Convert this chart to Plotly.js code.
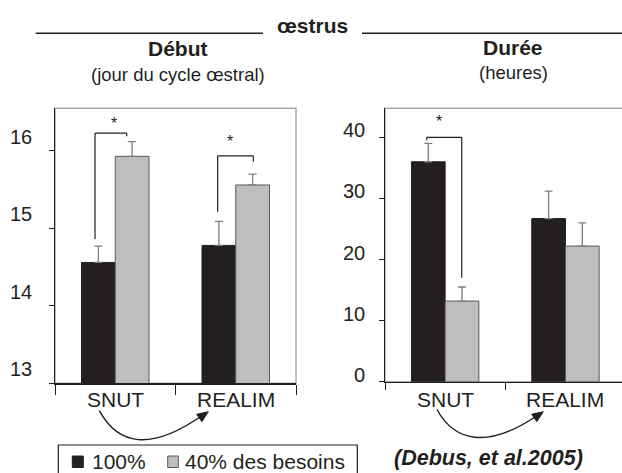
<!DOCTYPE html>
<html><head><meta charset="utf-8">
<script src="https://cdn.plot.ly/plotly-3.0.1.min.js"></script>
<style>html,body{margin:0;padding:0;background:#fff;} #chart{width:622px;height:473px;}</style>
</head><body><div id="chart"></div>
<script>
// ---- data ----
const groups = ['SNUT', 'REALIM'];
const seriesNames = ['100%', '40% des besoins'];
const debut100 = [14.56, 14.78];
const debut100Err = [0.21, 0.31];
const debut40 = [15.93, 15.56];
const debut40Err = [0.19, 0.14];
const duree100 = [36.0, 26.7];
const duree100Err = [3.0, 4.5];
const duree40 = [13.2, 22.2];
const duree40Err = [2.3, 3.8];
const debutTicks = [13, 14, 15, 16];
const dureeTicks = [0, 10, 20, 30, 40];

// ---- styling helpers ----
const W = 622, H = 473;
const px = x => x / W;
const py = y => 1 - y / H;
const FONT = 'Liberation Sans, Arial, Helvetica, sans-serif';
const INK = '#231f20';
const BLACK = '#231f20';
const GREY = '#bcbec0';
const GREY_EDGE = '#58595b';
const ERR = '#7f7f7f';
const COLORS = [BLACK, GREY];
const EDGES = [INK, GREY_EDGE];

function bar(xa, ya, vals, errs, idx) {
  return {
    type: 'bar', x: groups, y: vals, xaxis: xa, yaxis: ya,
    name: seriesNames[idx], showlegend: false,
    marker: { color: COLORS[idx], line: { color: EDGES[idx], width: 1 } },
    error_y: { type: 'data', array: errs, arrayminus: errs.map(() => 0), symmetric: false,
               color: ERR, thickness: 1.3, width: 4 },
    hoverinfo: 'skip'
  };
}

const data = [
  bar('x', 'y', debut100, debut100Err, 0),
  bar('x', 'y', debut40, debut40Err, 1),
  bar('x2', 'y2', duree100, duree100Err, 0),
  bar('x2', 'y2', duree40, duree40Err, 1)
];

const xCommon = {
  type: 'category', tickson: 'boundaries', ticks: 'outside', tickcolor: INK, tickwidth: 1,
  showline: true, linecolor: INK, linewidth: 1.3, showgrid: false, zeroline: false,
  showticklabels: false, fixedrange: true
};
const yCommon = {
  ticks: 'outside', ticklen: 5, tickcolor: INK, tickwidth: 1,
  showline: true, linecolor: INK, linewidth: 1.3, showgrid: false, zeroline: false,
  showticklabels: false, fixedrange: true
};

function seg(xref, yref, x0, y0, x1, y1, w) {
  return { type: 'line', xref, yref, x0, y0, x1, y1, line: { color: INK, width: w || 1.2 } };
}
function path(d, fill) {
  const o = { type: 'path', xref: 'paper', yref: 'paper', path: d, line: { color: INK, width: 1.4 } };
  if (fill) { o.fillcolor = INK; o.line.width = 1; }
  return o;
}
function box(x0, y0, x1, y1, fill, edge, w) {
  return { type: 'rect', xref: 'paper', yref: 'paper', x0: px(x0), x1: px(x1), y0: py(y1), y1: py(y0),
    fillcolor: fill, line: { color: edge, width: w } };
}
const P = (x, y) => px(x) + ',' + py(y);

const shapes = [
  // plot-area frames
  { type: 'rect', xref: 'x domain', yref: 'y domain', x0: 0, x1: 1, y0: 0, y1: 1, layer: 'below',
    line: { color: '#a7a9ac', width: 1.5 } },
  { type: 'rect', xref: 'x2 domain', yref: 'y2 domain', x0: 0, x1: 1.02, y0: 0, y1: 1, layer: 'below',
    line: { color: '#a7a9ac', width: 1.5 } },
  // header rules
  seg('paper', 'paper', px(35.7), py(33.3), px(263), py(33.3), 1.5),
  seg('paper', 'paper', px(362), py(33.3), 1, py(33.3), 1.5),
  // significance brackets - Début
  seg('x', 'y', -0.168, 14.86, -0.168, 16.23),
  seg('x', 'y', -0.168, 16.23, 0.095, 16.23),
  seg('x', 'y', 0.095, 16.23, 0.095, 16.19),
  seg('x', 'y', 0.85, 15.216, 0.85, 15.936),
  seg('x', 'y', 0.85, 15.936, 1.146, 15.936),
  seg('x', 'y', 1.146, 15.936, 1.146, 15.86),
  // significance bracket - Durée
  seg('x2', 'y2', -0.153, 40, 0.138, 40),
  seg('x2', 'y2', -0.153, 40, -0.153, 39.5),
  seg('x2', 'y2', 0.138, 40, 0.138, 17),
  // curved arrows SNUT -> REALIM
  path('M' + P(99.3, 410.7) + ' C' + P(118, 445) + ' ' + P(150, 452) + ' ' + P(203, 415)),
  path('M' + P(208.3, 411.7) + ' L' + P(201.9, 421.7) + ' L' + P(196.7, 414.3) + ' Z', true),
  path('M' + P(437, 409.5) + ' C' + P(454, 441) + ' ' + P(487, 450) + ' ' + P(538, 415)),
  path('M' + P(543.3, 411.7) + ' L' + P(536.8, 421.6) + ' L' + P(531.7, 414.2) + ' Z', true),
  // legend box and keys
  box(58.3, 445, 357.3, 495, 'rgba(0,0,0,0)', INK, 1.2),
  box(72.3, 456, 83.3, 467.5, COLORS[0], EDGES[0], 1),
  box(167.7, 456, 178.3, 467.5, COLORS[1], EDGES[1], 1)
];

function txt(text, x, y, size, extra) {
  return Object.assign({ text, xref: 'paper', yref: 'paper', x: px(x), y: py(y), showarrow: false,
    xanchor: 'center', yanchor: 'middle', font: { family: FONT, size, color: INK } }, extra || {});
}
const annotations = [
  txt('<b>œstrus</b>', 312, 25.5, 21),
  txt('<b>Début</b>', 177.5, 48.5, 21),
  txt('(jour du cycle œstral)', 177.5, 74, 18.5),
  txt('<b>Durée</b>', 513, 47, 21),
  txt('(heures)', 513, 72.5, 18.5),
  txt('<b><i>(Debus, et al.2005)</i></b>', 488.3, 458, 21.5),
  txt(seriesNames[0], 89.5, 461, 21, { xanchor: 'left' }),
  txt(seriesNames[1], 183, 461, 21, { xanchor: 'left' }),
  { text: '*', xref: 'x', yref: 'y', x: -0.01, y: 16.35, showarrow: false, font: { family: FONT, size: 16, color: INK } },
  { text: '*', xref: 'x', yref: 'y', x: 0.95, y: 16.12, showarrow: false, font: { family: FONT, size: 16, color: INK } },
  { text: '*', xref: 'x2', yref: 'y2', x: -0.05, y: 42.6, showarrow: false, font: { family: FONT, size: 16, color: INK } }
];
// tick labels (drawn with the axes' own scales)
debutTicks.forEach(v => annotations.push({ text: String(v), xref: 'paper', yref: 'y', x: px(33.5), y: v,
  xanchor: 'right', yanchor: 'middle', yshift: 14, showarrow: false, font: { family: FONT, size: 20, color: INK } }));
dureeTicks.forEach(v => annotations.push({ text: String(v), xref: 'paper', yref: 'y2', x: px(366.5), y: v,
  xanchor: 'right', yanchor: 'middle', yshift: 7, showarrow: false, font: { family: FONT, size: 20, color: INK } }));
groups.forEach(g => {
  annotations.push({ text: g, xref: 'x', yref: 'paper', x: g, y: py(399.5), xanchor: 'center', yanchor: 'middle',
    showarrow: false, font: { family: FONT, size: 21, color: INK } });
  annotations.push({ text: g, xref: 'x2', yref: 'paper', x: g, y: py(399.5), xanchor: 'center', yanchor: 'middle',
    showarrow: false, font: { family: FONT, size: 21, color: INK } });
});

const layout = {
  width: W, height: H, margin: { l: 0, r: 0, t: 0, b: 0 },
  paper_bgcolor: '#fff', plot_bgcolor: 'rgba(0,0,0,0)',
  barmode: 'group', bargap: 0.44, bargroupgap: 0,
  font: { family: FONT, color: INK },
  showlegend: false,
  xaxis: Object.assign({}, xCommon, { domain: [px(55), px(296)], range: [-0.5, 1.5], anchor: 'y', ticklen: 10 }),
  yaxis: Object.assign({}, yCommon, { domain: [py(383.3), py(108.3)], range: [13, 16.55], anchor: 'x',
    tickvals: debutTicks }),
  xaxis2: Object.assign({}, xCommon, { domain: [px(385), 1], range: [-0.5, 1.47], anchor: 'y2', ticklen: 7 }),
  yaxis2: Object.assign({}, yCommon, { domain: [py(381.7), py(108.3)], range: [0, 44.75], anchor: 'x2',
    tickvals: dureeTicks }),
  shapes, annotations
};

Plotly.newPlot('chart', data, layout, { staticPlot: true, displayModeBar: false });
</script>
</body></html>
